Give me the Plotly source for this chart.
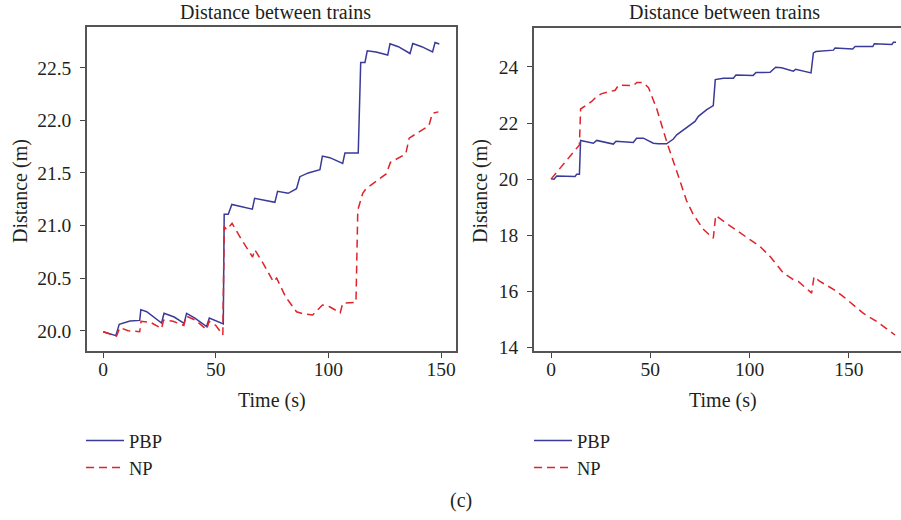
import plotly.graph_objects as go

# ---------------- data ----------------
# Left panel
t_left_pbp = [0, 5.6, 7.1, 11.9, 16.2, 16.7, 19.3, 25.9, 27.0, 31.5, 35.9, 37.0, 40.7, 45.9, 47.1,
              53.3, 53.7, 55.5, 57.1, 66.2, 67.2, 71.1, 76.2, 77.4, 82.1, 85.8, 87.3, 91.0, 96.2,
              97.3, 100.6, 106.3, 107.3, 113.2, 114.3, 116.2, 117.2, 121.1, 126.3, 127.3, 131.0,
              136.2, 137.4, 141.4, 146.2, 147.3, 149.2]
d_left_pbp = [19.99, 19.953, 20.06, 20.092, 20.098, 20.20, 20.18, 20.073, 20.165, 20.13, 20.07,
              20.165, 20.12, 20.04, 20.12, 20.065, 21.106, 21.106, 21.20, 21.155, 21.258, 21.24,
              21.22, 21.325, 21.306, 21.35, 21.464, 21.50, 21.53, 21.66, 21.645, 21.59, 21.69,
              21.69, 22.55, 22.55, 22.66, 22.65, 22.62, 22.727, 22.70, 22.635, 22.73, 22.70,
              22.65, 22.74, 22.725]
t_left_np = [0, 5.9, 7.4, 11.0, 16.2, 16.8, 21.0, 25.9, 26.8, 31.0, 35.8, 36.8, 41.0, 45.9, 47.0,
             50.0, 53.1, 53.7, 54.8, 57.2, 61.0, 66.3, 67.3, 71.0, 75.5, 77.0, 81.0, 85.8, 89.0,
             93.0, 97.3, 100.3, 105.2, 106.3, 112.2, 113.0, 115.2, 116.7, 125.6, 127.5, 134.3,
             135.8, 144.6, 146.1, 148.8]
d_left_np = [19.99, 19.95, 20.03, 20.0, 19.99, 20.09, 20.08, 20.02, 20.10, 20.09, 20.05, 20.14,
             20.10, 20.01, 20.09, 20.05, 19.96, 20.99, 20.96, 21.02, 20.88, 20.70, 20.77, 20.64,
             20.466, 20.50, 20.32, 20.18, 20.16, 20.15, 20.244, 20.23, 20.17, 20.26, 20.27,
             21.147, 21.306, 21.35, 21.49, 21.60, 21.68, 21.83, 21.95, 22.066, 22.08]

# Right panel
t_right_pbp = [0, 1.5, 2.9, 12.1, 12.9, 14.3, 14.9, 21.3, 23.0, 31.4, 32.7, 41.4, 43.1, 46.5,
               51.5, 54.0, 58.2, 61.6, 63.3, 72.5, 74.2, 78.4, 81.7, 82.7, 86.8, 91.8, 93.1,
               101.8, 103.2, 110.3, 113.1, 116.1, 122.0, 123.2, 130.9, 132.1, 133.4, 142.2,
               143.0, 151.9, 153.1, 162.0, 162.8, 171.6, 172.4, 173.7]
d_right_pbp = [20.01, 20.0, 20.11, 20.09, 20.17, 20.17, 21.38, 21.28, 21.38, 21.25, 21.35, 21.31,
               21.46, 21.46, 21.28, 21.26, 21.26, 21.43, 21.58, 22.06, 22.24, 22.48, 22.62, 23.55,
               23.60, 23.60, 23.71, 23.70, 23.80, 23.81, 23.99, 23.97, 23.85, 23.92, 23.79, 24.50,
               24.55, 24.60, 24.68, 24.64, 24.73, 24.73, 24.83, 24.80, 24.88, 24.88]
t_right_np = [0, 1.2, 14.3, 14.9, 20.5, 23.0, 25.6, 32.3, 34.0, 41.5, 43.2, 46.5, 49.1, 53.3,
              58.4, 64.1, 68.3, 71.6, 76.7, 81.7, 82.9, 91.8, 100.2, 105.2, 110.3, 117.0, 122.0,
              124.5, 130.4, 131.2, 132.4, 135.4, 142.2, 147.2, 157.3, 164.0, 173.2]
d_right_np = [20.0, 20.1, 21.22, 22.5, 22.77, 22.95, 23.05, 23.17, 23.35, 23.34, 23.45, 23.44,
              23.26, 22.49, 21.30, 20.11, 19.22, 18.74, 18.21, 17.89, 18.70, 18.25, 17.84, 17.60,
              17.24, 16.65, 16.41, 16.35, 15.99, 15.93, 16.52, 16.35, 16.07, 15.81, 15.21, 14.92,
              14.44]

x_ticks = [0, 50, 100, 150]
y_ticks_left = [20.0, 20.5, 21.0, 21.5, 22.0, 22.5]
y_ticks_right = [14, 16, 18, 20, 22, 24]
series_names = ["PBP", "NP"]
panel_title = "Distance between trains"
x_title = "Time (s)"
y_title = "Distance (m)"
caption = "(c)"

# ---------------- styling ----------------
W, H = 901, 520
FONT = "Liberation Serif"
TXT = "#231f20"
BLUE = "#3a3a98"
RED = "#e0232b"
DASH = "8px,5px"

fig = go.Figure()
fig.add_trace(go.Scatter(x=t_left_pbp, y=d_left_pbp, name=series_names[0], mode="lines",
                         line=dict(color=BLUE, width=1.5), xaxis="x", yaxis="y", legend="legend"))
fig.add_trace(go.Scatter(x=t_left_np, y=d_left_np, name=series_names[1], mode="lines",
                         line=dict(color=RED, width=1.5, dash=DASH), xaxis="x", yaxis="y",
                         legend="legend"))
fig.add_trace(go.Scatter(x=t_right_pbp, y=d_right_pbp, name=series_names[0], mode="lines",
                         line=dict(color=BLUE, width=1.5), xaxis="x2", yaxis="y2", legend="legend2"))
fig.add_trace(go.Scatter(x=t_right_np, y=d_right_np, name=series_names[1], mode="lines",
                         line=dict(color=RED, width=1.5, dash=DASH), xaxis="x2", yaxis="y2",
                         legend="legend2"))

axis_common = dict(showgrid=False, zeroline=False, showline=True, mirror=True, linecolor="#555",
                   linewidth=1.5, ticks="outside", ticklen=5, tickwidth=1, tickcolor="#444",
                   automargin=False,
                   tickfont=dict(family=FONT, size=19.5, color=TXT), fixedrange=True)

yb, yt = 1 - 351 / H, 1 - 27 / H
leg_common = dict(xanchor="left", yanchor="top", bgcolor="rgba(0,0,0,0)",
                  font=dict(family=FONT, size=18.5, color=TXT), tracegroupgap=0, itemwidth=38)
fig.update_layout(
    template="none",
    width=W, height=H,
    margin=dict(l=0, r=0, t=0, b=0, autoexpand=False),
    paper_bgcolor="white", plot_bgcolor="white",
    font=dict(family=FONT, size=20, color=TXT),
    xaxis=dict(domain=[87 / W, 456 / W], range=[-7.2, 156.6], tickvals=x_ticks,
               anchor="y", ticklabelstandoff=-5, **axis_common),
    yaxis=dict(domain=[yb, yt], range=[19.807, 22.887], tickvals=y_ticks_left,
               tickformat=".1f", anchor="x", ticklabelstandoff=5, **axis_common),
    xaxis2=dict(domain=[534 / W, 1.0], range=[-8.56, 176.2], tickvals=x_ticks,
                anchor="y2", ticklabelstandoff=-5, **axis_common),
    yaxis2=dict(domain=[yb, 1 - 28 / H], range=[13.87, 25.39], tickvals=y_ticks_right,
                anchor="x2", ticklabelstandoff=5, **axis_common),
    legend=dict(x=81 / W, y=1 - 422 / H, **leg_common),
    legend2=dict(x=529 / W, y=1 - 422 / H, **leg_common),
)

ann = []
def add_text(text, x, y, angle=0, size=20):
    ann.append(dict(text=text, x=x / W, y=1 - y / H, xref="paper", yref="paper",
                    showarrow=False, xanchor="center", yanchor="middle", textangle=angle,
                    font=dict(family=FONT, size=size, color=TXT)))

add_text(panel_title, 275, 12)
add_text(panel_title, 724, 12)
add_text(x_title, 272, 400)
add_text(x_title, 723, 400)
add_text(y_title, 20, 191, angle=-90)
add_text(y_title, 480, 191, angle=-90)
add_text(caption, 461, 500)
fig.update_layout(annotations=ann)

fig.write_html("out.html", config={"displayModeBar": False},
               post_script="document.body.style.margin='0';document.body.style.padding='0';")
